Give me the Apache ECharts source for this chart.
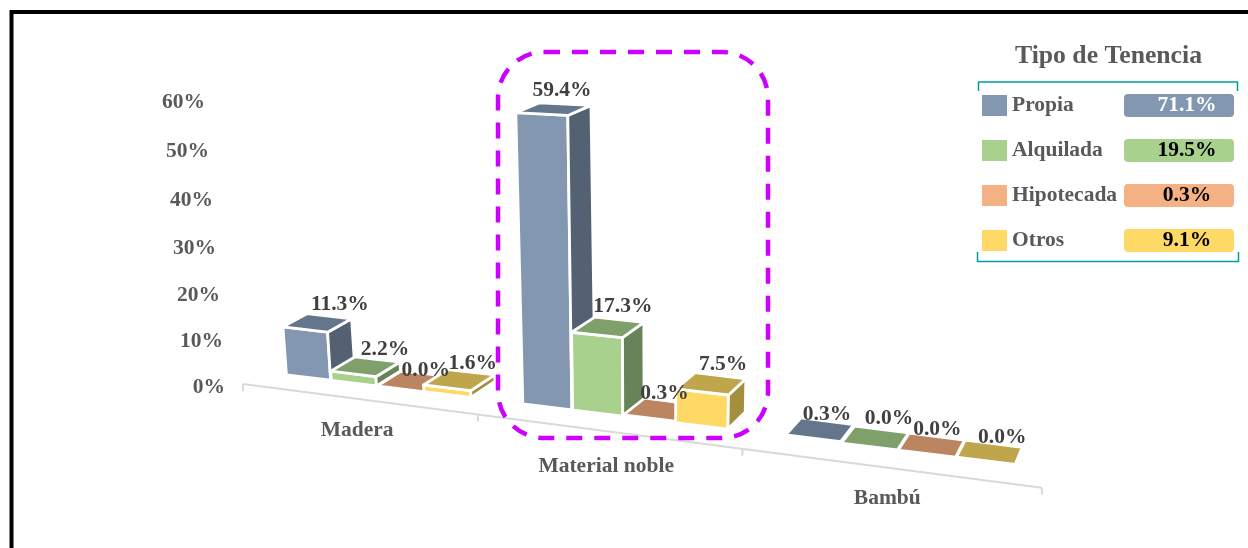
<!DOCTYPE html>
<html><head><meta charset="utf-8">
<style>html,body{margin:0;padding:0;background:#fff}#c{width:1248px;height:548px}</style>
<script src="https://cdn.jsdelivr.net/npm/echarts@6/dist/echarts.min.js"></script>
</head><body><div id="c"></div>
<script>
const categories = ['Madera', 'Material noble', 'Bambú'];
const seriesNames = ['Propia', 'Alquilada', 'Hipotecada', 'Otros'];
const propia = [11.3, 59.4, 0.3];
const alquilada = [2.2, 17.3, 0.0];
const hipotecada = [0.0, 0.3, 0.0];
const otros = [1.6, 7.5, 0.0];
const totals = ['71.1%', '19.5%', '0.3%', '9.1%'];
const valueTicks = [0, 10, 20, 30, 40, 50, 60];
const legendTitle = 'Tipo de Tenencia';

const allValues = [propia, alquilada, hipotecada, otros];
const colors = ['#8497B0', '#A9D18E', '#F4B183', '#FFD966'];
const topColors = ['#64768C', '#7F9F6B', '#BA8560', '#BFA54C'];
const sideColors = ['#546173', '#66835A', '#A5785A', '#A58F3F'];
const chipText = ['#fff', '#000', '#000', '#000'];
const FONT = '"Liberation Serif","Times New Roman",serif';
const SIZE = 21.5;

// how the flat chart is tilted into the picture
const axisX = u => 243 + 221.96 * u / (1 - 0.0555 * u);
const axisY = x => 384 + 0.13 * (x - 243);
const barX = u => 242 + 220 * u / (1 - 0.05 * u);
const baseY = x => 375 + 0.123 * (x - 288);
const rise = (flat, u) => Math.max(1, 0.96 + 0.06 * u) * 0.873 * flat / (1 - 0.00045 * flat);
const clamp = (a, lo, hi) => Math.min(hi, Math.max(lo, a));
function pt(u, flat, back) {
  const x0 = barX(u), h = rise(flat, u);
  let x = x0 - (640 - x0) * 2.06e-4 * h, y = baseY(x0) - h;
  if (back) {
    x += clamp(0.0375 * (1190 - x0), 7, 24);
    y -= clamp(14 + (x0 - 300) * 0.012, 14, 17) * (1 - 0.4 * h / 290);
  }
  return [x, y];
}
const GROUP_START = 0.2, STEP = 0.198, BAR = 0.195;
function barGeom(api, s) {
  const cat = api.value(0), v = api.value(1);
  const band = api.size([1, 0])[0];
  const left = api.coord([0, 0])[0] - band / 2;
  const zero = api.coord([cat, 0]);
  const flat = zero[1] - api.coord([cat, v])[1];
  const u0 = (zero[0] - left) / band - 0.5 + GROUP_START + s * STEP;
  return { u0, u1: u0 + BAR, flat };
}
const face = (points, fill) => ({ type: 'polygon', shape: { points }, style: { fill, stroke: '#fff', lineWidth: 2.8, lineJoin: 'round' } });
function renderBar(s) {
  return (params, api) => {
    const { u0, u1, flat } = barGeom(api, s);
    const kids = [];
    if (flat > 3) {
      kids.push(face([pt(u0, 0), pt(u1, 0), pt(u1, flat), pt(u0, flat)], colors[s]));
      kids.push(face([pt(u1, 0), pt(u1, 0, 1), pt(u1, flat, 1), pt(u1, flat)], sideColors[s]));
    }
    kids.push(face([pt(u0, flat), pt(u1, flat), pt(u1, flat, 1), pt(u0, flat, 1)], topColors[s]));
    return { type: 'group', children: kids };
  };
}
const labelNudge = [
  [[10.6, -12], [-3.4, -14], [-0.4, -7]],
  [[7.6, -10.2], [3.6, -13.5], [7.6, -11]],
  [[1.6, -3.5], [-4.9, -8], [0.6, -7]],
  [[1.6, -8.5], [2.6, -11], [8.6, -6]]
];
function renderDataLabel(s) {
  return (params, api) => {
    const { u0, u1, flat } = barGeom(api, s);
    const a = pt(u0, flat, 1), b = pt(u1, flat, 1), n = labelNudge[s][api.value(0)];
    return { type: 'text', style: {
      x: (a[0] + b[0]) / 2 + n[0], y: (a[1] + b[1]) / 2 + n[1],
      text: api.value(1).toFixed(1) + '%', fill: '#404040',
      font: 'bold ' + SIZE + 'px ' + FONT, align: 'center', verticalAlign: 'middle' } };
  };
}
function renderAxisLine(params, api) {
  const band = api.size([1, 0])[0];
  const left = api.coord([0, 0])[0] - band / 2;
  const toU = t => (left + t * band - left) / band;
  const kids = [];
  const stroke = { stroke: '#D9D9D9', lineWidth: 2, fill: 'none' };
  const n = categories.length;
  const a = axisX(toU(0)), b = axisX(toU(n));
  kids.push({ type: 'line', shape: { x1: a, y1: axisY(a), x2: b, y2: axisY(b) }, style: stroke });
  for (let t = 0; t <= n; t++) {
    const x = axisX(toU(t));
    kids.push({ type: 'line', shape: { x1: x, y1: axisY(x), x2: x, y2: axisY(x) + 7 }, style: stroke });
  }
  return { type: 'group', children: kids };
}
const catLabelDrop = [32, 35.5, 31];
function renderCatLabel(params, api) {
  const i = api.value(0);
  const x = axisX(i + 0.5);
  return { type: 'text', style: { x, y: axisY(x) + catLabelDrop[i], text: categories[i],
    fill: '#595959', font: 'bold ' + SIZE + 'px ' + FONT, align: 'center', verticalAlign: 'middle' } };
}
// tilted value-axis labels
const tickRight = { 0: 0, 10: 2, 20: 5, 30: 9, 40: 12, 50: 16, 60: 20 };
const tickDrop = { 0: 2, 10: 3.5, 20: 5, 30: 5.5, 40: 5, 50: 3.5, 60: 2 };
const tickRich = {};
valueTicks.forEach(v => { tickRich['t' + v] = {
  fontFamily: FONT, fontWeight: 'bold', fontSize: SIZE, color: '#595959',
  padding: [tickDrop[v] * 2, tickRight[v], 0, 0] }; });

const legendRich = {};
seriesNames.forEach((n, i) => {
  legendRich['v' + i] = { width: 94, height: 23, align: 'center', padding: [0, 0, 0, 16],
    backgroundColor: colors[i], borderRadius: 4, color: chipText[i],
    fontFamily: FONT, fontWeight: 'bold', fontSize: SIZE };
});
legendRich.n = { width: 112, color: '#595959', fontFamily: FONT, fontWeight: 'bold', fontSize: SIZE };

const series = [{
  type: 'custom', name: 'eje', coordinateSystem: 'cartesian2d', z: 1, silent: true,
  renderItem: renderAxisLine, data: [[0, 0]], encode: { x: 0, y: 1 }
}, {
  type: 'custom', name: 'categorias', coordinateSystem: 'cartesian2d', z: 1, silent: true,
  renderItem: renderCatLabel, data: categories.map((c, i) => [i, 0]), encode: { x: 0, y: 1 }
}];
seriesNames.forEach((n, s) => series.push({
  type: 'custom', name: n, coordinateSystem: 'cartesian2d', z: 2 + s,
  itemStyle: { color: colors[s] }, renderItem: renderBar(s),
  data: allValues[s].map((v, i) => [i, v]), encode: { x: 0, y: 1 }
}));
seriesNames.forEach((n, s) => series.push({
  type: 'custom', name: n + ' etiqueta', coordinateSystem: 'cartesian2d', z: 20, silent: true,
  renderItem: renderDataLabel(s),
  data: allValues[s].map((v, i) => [i, v]), encode: { x: 0, y: 1 }
}));

const chart = echarts.init(document.getElementById('c'), null, { renderer: 'canvas' });
chart.setOption({
  animation: false,
  backgroundColor: '#fff',
  title: { text: legendTitle, left: 1103.5, top: 38, textAlign: 'center',
    textStyle: { color: '#595959', fontFamily: FONT, fontWeight: 'bold', fontSize: 25.7 } },
  grid: { left: 243, top: 100, width: 799, height: 285 },
  xAxis: { type: 'category', data: categories, show: false },
  yAxis: { type: 'value', min: 0, max: 60, interval: 10, axisLine: { show: false }, axisTick: { show: false },
    splitLine: { show: false },
    axisLabel: { margin: 18, formatter: v => `{t${v}|${v}%}`, rich: tickRich } },
  legend: { orient: 'vertical', left: 977, top: 89, itemWidth: 25, itemHeight: 21, itemGap: 22,
    selectedMode: false,
    data: seriesNames.map((n, i) => ({ name: n, icon: 'rect', itemStyle: { color: colors[i] } })),
    formatter: n => `{n|${n}}{v${seriesNames.indexOf(n)}|${totals[seriesNames.indexOf(n)]}}`,
    textStyle: { rich: legendRich, fontFamily: FONT, fontWeight: 'bold', fontSize: SIZE } },
  graphic: [
    { type: 'polyline', z: 100, shape: { points: [[11.5, 548], [11.5, 12], [1248, 12]] }, style: { stroke: '#000', lineWidth: 4, fill: 'none' } },
    { type: 'rect', z: 100, shape: { x: 498, y: 52, width: 270, height: 386, r: 46 }, style: { fill: 'none', stroke: '#CC00FF', lineWidth: 4.5, lineDash: [16, 12] } },
    { type: 'polyline', z: 100, shape: { points: [[978.5, 91], [978.5, 82], [1237.5, 82], [1237.5, 91]] }, style: { stroke: '#009E9A', lineWidth: 1.5, fill: 'none' } },
    { type: 'polyline', z: 100, shape: { points: [[977.5, 252], [977.5, 261.5], [1238.5, 261.5], [1238.5, 252]] }, style: { stroke: '#009E9A', lineWidth: 1.5, fill: 'none' } }
  ],
  series
});
</script></body></html>
